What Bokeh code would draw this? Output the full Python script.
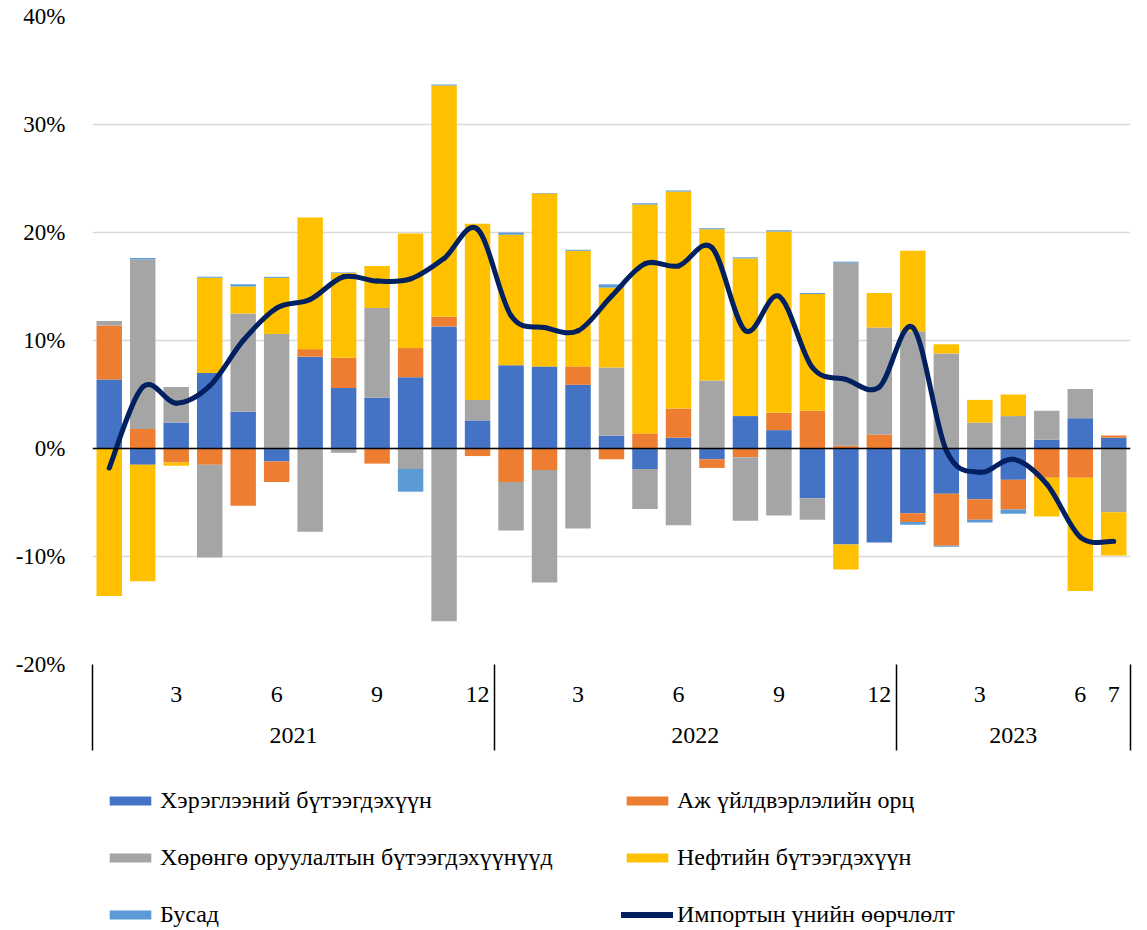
import numpy as np
from bokeh.plotting import figure
from bokeh.layouts import column
from bokeh.models import (FixedTicker, LinearAxis, Range1d, Span, Legend, LegendItem)
from bokeh.embed import file_html
from bokeh.resources import INLINE

# ---------------- data ----------------
years = ["2021", "2022", "2023"]
months_per_year = [12, 12, 7]
month_labels = ["", "", "3", "", "", "6", "", "", "9", "", "", "12",
                "", "", "3", "", "", "6", "", "", "9", "", "", "12",
                "", "", "3", "", "", "6", "7"]

series_names = ["Хэрэглээний бүтээгдэхүүн", "Аж үйлдвэрлэлийн орц",
                "Хөрөнгө оруулалтын бүтээгдэхүүнүүд", "Нефтийн бүтээгдэхүүн", "Бусад"]
line_name = "Импортын үнийн өөрчлөлт"

consumer =   [6.4, -1.5, 2.4, 7.0, 3.4, -1.2, 8.5, 5.6, 4.7, 6.6, 11.3, 2.6,
              7.7, 7.6, 5.9, 1.2, -1.9, 1.0, -1.0, 3.0, 1.7, -4.6, -8.9, -8.7,
              -6.0, -4.2, -4.7, -2.9, 0.8, 2.8, 1.0]
industrial = [5.0, 1.8, -1.3, -1.5, -5.3, -1.9, 0.7, 2.8, -1.4, 2.7, 0.9, -0.7,
              -3.1, -2.0, 1.7, -1.0, 1.4, 2.7, -0.8, -0.8, 1.6, 3.5, 0.25, 1.3,
              -0.8, -4.8, -1.9, -2.75, -2.7, -2.7, 0.2]
investment = [0.4, 15.7, 3.3, -8.6, 9.1, 10.6, -7.7, -0.4, 8.3, -1.9, -16.0, 1.9,
              -4.5, -10.4, -7.4, 6.3, -3.7, -7.1, 6.3, -5.9, -6.2, -2.0, 16.95, 9.9,
              10.85, 8.8, 2.4, 3.0, 2.7, 2.7, -5.9]
petroleum =  [-13.65, -10.8, -0.3, 8.8, 2.5, 5.2, 12.2, 7.85, 3.9, 10.6, 21.4, 16.3,
              12.1, 16.0, 10.7, 7.4, 21.2, 20.1, 14.0, 14.6, 16.8, 10.8, -2.3, 3.2,
              7.45, 0.85, 2.1, 2.0, -3.6, -10.5, -4.0]
other =      [0.0, 0.15, 0.0, 0.1, 0.2, 0.1, 0.0, 0.05, 0.0, -2.1, 0.1, 0.0,
              0.2, 0.05, 0.1, 0.3, 0.1, 0.1, 0.1, 0.1, 0.1, 0.1, 0.1, 0.0,
              -0.25, -0.1, -0.25, -0.4, 0.0, 0.0, 0.0]
import_change = [-1.8, 5.7, 4.2, 5.8, 10.0, 13.0, 13.8, 15.9, 15.5, 15.7, 17.6, 20.3,
                 12.3, 11.2, 10.9, 14.1, 17.1, 16.9, 18.6, 10.9, 14.1, 7.5, 6.4, 5.7,
                 11.2, -0.2, -2.2, -1.0, -3.3, -8.2, -8.6]

y_ticks = [-20, -10, 0, 10, 20, 30, 40]

colors = ["#4472C4", "#ED7D31", "#A5A5A5", "#FFC000", "#5B9BD5"]
line_color = "#002060"
FONT = "Liberation Serif"

# ---------------- derived ----------------
n = len(month_labels)
x = np.arange(1, n + 1, dtype=float)
vals = np.array([consumer, industrial, investment, petroleum, other], dtype=float)
pos = np.where(vals > 0, vals, 0.0)
neg = np.where(vals < 0, vals, 0.0)
pos_top = np.cumsum(pos, axis=0)
pos_bot = pos_top - pos
neg_bot = np.cumsum(neg, axis=0)
neg_top = neg_bot - neg
tops = [np.where(vals[i] >= 0, pos_top[i], neg_top[i]) for i in range(len(colors))]
bots = [np.where(vals[i] >= 0, pos_bot[i], neg_bot[i]) for i in range(len(colors))]

bounds = np.concatenate([[0.5], 0.5 + np.cumsum(months_per_year)])
year_centers = [float((bounds[i] + bounds[i + 1]) / 2) for i in range(len(years))]

p = figure(frame_width=1038, frame_height=648,
           min_border_left=92, min_border_right=17, min_border_top=16, min_border_bottom=90,
           x_range=Range1d(0.5, n + 0.5), y_range=Range1d(y_ticks[0], y_ticks[-1]),
           x_axis_location=None, toolbar_location=None, output_backend="svg")
p.outline_line_color = None
p.background_fill_color = "white"
p.border_fill_color = "white"

# y axis
ya = p.yaxis[0]
ya.ticker = FixedTicker(ticks=y_ticks)
ya.major_label_overrides = {t: f"{t}%" for t in y_ticks}
ya.axis_line_color = None
ya.major_tick_line_color = None
ya.minor_tick_line_color = None
ya.major_label_standoff = 21
ya.major_label_text_font = FONT
ya.major_label_text_font_size = "23px"
ya.major_label_text_color = "black"
p.ygrid.ticker = FixedTicker(ticks=y_ticks)
p.ygrid.grid_line_color = "#D9D9D9"
p.ygrid.grid_line_width = 1.3
p.xgrid.visible = False

# month axis
month_ticks = [float(xi) for xi, lab in zip(x, month_labels) if lab]
ax_m = LinearAxis(ticker=FixedTicker(ticks=month_ticks),
                  major_label_overrides={float(xi): lab for xi, lab in zip(x, month_labels) if lab})
ax_m.axis_line_color = None
ax_m.major_tick_line_color = None
ax_m.minor_tick_line_color = None
ax_m.major_tick_out = 0
ax_m.major_tick_in = 0
ax_m.major_label_standoff = 22
ax_m.major_label_text_font = FONT
ax_m.major_label_text_font_size = "24px"
ax_m.major_label_text_color = "black"
p.add_layout(ax_m, "below")

# year axis, year separators drawn as its minor ticks
ax_y = LinearAxis(ticker=FixedTicker(ticks=year_centers, minor_ticks=[float(b) for b in bounds]),
                  major_label_overrides={c: y for c, y in zip(year_centers, years)})
ax_y.axis_line_color = None
ax_y.major_tick_line_color = None
ax_y.major_tick_out = 0
ax_y.major_tick_in = 0
ax_y.minor_tick_in = 40
ax_y.minor_tick_out = 46
ax_y.minor_tick_line_color = "black"
ax_y.minor_tick_line_width = 1.5
ax_y.major_label_standoff = -23
ax_y.major_label_text_font = FONT
ax_y.major_label_text_font_size = "24px"
ax_y.major_label_text_color = "black"
p.add_layout(ax_y, "below")

# bars
renderers = []
for i, c in enumerate(colors):
    r = p.vbar(x=x, top=tops[i], bottom=bots[i], width=0.76, fill_color=c, line_color=None)
    renderers.append(r)

p.add_layout(Span(location=0, dimension="width", line_color="black", line_width=1.3))

# smoothed line (Catmull-Rom style bezier through the data points)
P = np.column_stack([x, np.array(import_change, dtype=float)])
prev = np.vstack([P[:1], P[:-1]])
nxt = np.vstack([P[1:], P[-1:]])
c0 = P[:-1] + (nxt[:-1] - prev[:-1]) / 6.0
c1 = P[1:] - (nxt[1:] - prev[1:]) / 6.0
lr = p.bezier(x0=P[:-1, 0], y0=P[:-1, 1], x1=P[1:, 0], y1=P[1:, 1],
              cx0=c0[:, 0], cy0=c0[:, 1], cx1=c1[:, 0], cy1=c1[:, 1],
              line_color=line_color, line_width=5, line_cap="round")

# ---------------- legend panel ----------------
LW, LH = 1147, 176
q = figure(width=LW, height=LH, min_border=0, x_range=Range1d(0.5, n + 0.5),
           y_range=Range1d(y_ticks[0], y_ticks[-1]),
           x_axis_location=None, y_axis_location=None, toolbar_location=None, output_backend="svg")
q.outline_line_color = None
q.grid.visible = False
q.background_fill_color = "white"
q.border_fill_color = "white"

# hidden copies of the series, used only to draw the legend swatches
proxies = [q.vbar(x=x, top=tops[i], bottom=bots[i], width=0.76, fill_color=c,
                  line_color=None, visible=False) for i, c in enumerate(colors)]
proxy_line = q.line(x=x, y=import_change, line_color=line_color, line_width=6,
                    line_cap="round", visible=False)

common = dict(glyph_width=52, glyph_height=11, label_height=28, label_standoff=4,
              spacing=29, padding=0, margin=0,
              label_text_font=FONT, label_text_font_size="24px", label_text_color="black",
              border_line_color=None, background_fill_alpha=0,
              inactive_fill_alpha=0)
leg1 = Legend(items=[LegendItem(label=series_names[0], renderers=[proxies[0]]),
                     LegendItem(label=series_names[2], renderers=[proxies[2]]),
                     LegendItem(label=series_names[4], renderers=[proxies[4]])],
              location=(12, 2), **common)
leg2 = Legend(items=[LegendItem(label=series_names[1], renderers=[proxies[1]]),
                     LegendItem(label=series_names[3], renderers=[proxies[3]]),
                     LegendItem(label=line_name, renderers=[proxy_line])],
              location=(529, 2), **common)
q.add_layout(leg1)
q.add_layout(leg2)

open("out.html", "w").write(file_html(column(p, q, spacing=0), INLINE))
